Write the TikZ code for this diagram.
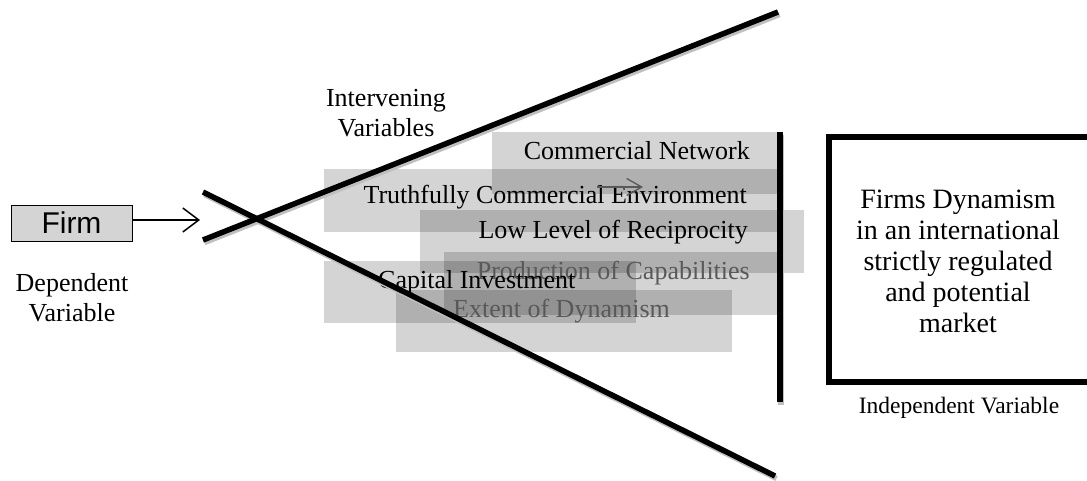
\documentclass[tikz,border=0pt]{standalone}
\usepackage{fontspec}
\setmainfont{Liberation Serif}
\newfontfamily\arialfont{Liberation Sans}
\usetikzlibrary{arrows.meta}
\begin{document}
\begin{tikzpicture}[x=1pt,y=-1pt,
  varbox/.style={fill=black, fill opacity=0.17, draw=none},
  vartext/.style={inner sep=0pt, font=\fontsize{26}{30}\selectfont, text height=18pt, text depth=5pt},
  heavy/.style={line width=5.5pt, line cap=butt, line join=miter},
  shade/.style={line width=5.5pt, draw=black!25},
  lbl/.style={align=center, inner sep=0pt, font=\fontsize{26}{30}\selectfont},
  barb/.style={line width=1.5pt, -{Straight Barb[length=16pt,width=24pt]}},
]
\useasboundingbox (0,0) rectangle (1087,481);

% translucent bands for the intervening variables
\path[varbox] (492,132) rectangle (777,194);
\path[varbox] (324,169) rectangle (777,232);
\path[varbox] (420,210) rectangle (804,273);
\path[varbox] (444,252) rectangle (777,315);
\path[varbox] (324,261) rectangle (636,323);
\path[varbox] (396,290) rectangle (732,352);

% labels of the bands
\node[vartext, anchor=east] (tcn) at (750,153) {Commercial Network};
\node[vartext, anchor=east] (tce) at (747,197) {Truthfully Commercial Environment};
\node[vartext, anchor=east] (tll) at (748,232) {Low Level of Reciprocity};
\node[vartext, anchor=east, text=black!65] (tpc) at (750,273) {Production of Capabilities};
\node[vartext, anchor=west] (tci) at (378,282) {Capital Investment};
\node[vartext, anchor=west, text=black!65] (ted) at (453,311) {Extent of Dynamism};

% small arrow lying under the top band
\coordinate (sa0) at (597,187);
\coordinate (sa1) at (643,187);
\draw[black!65, line width=1.3pt, -{Straight Barb[length=15pt,width=17pt]}] (sa0) -- (sa1);

% the firm and its arrow into the fan
\node[draw, fill=black!17, line width=0.8pt, minimum width=121pt, minimum height=36pt,
      inner sep=0pt, font=\arialfont\fontsize{30}{30}\selectfont] (firm) at (71.5,223) {Firm};
\coordinate (fan) at (200,220);
\draw[barb] (firm.east |- fan) -- (fan);

\node[lbl] (dv) at (72,298) {Dependent\\Variable};
\node[lbl] (iv) at (386,113) {Intervening\\Variables};

% the fan of two crossing lines and the closing bar
\coordinate (u0) at (203,240); \coordinate (u1) at (778,12);
\coordinate (l0) at (203,192); \coordinate (l1) at (775,476);
\coordinate (v0) at (780,132); \coordinate (v1) at (780,402);
\draw[shade] ([shift={(1.5,2.5)}]u0) -- ([shift={(1.5,2.5)}]u1);
\draw[shade] ([shift={(1.5,2.5)}]l0) -- ([shift={(1.5,2.5)}]l1);
\draw[shade] ([shift={(1,3)}]v0) -- ([shift={(1,3)}]v1);
\draw[heavy] (u0) -- (u1);
\draw[heavy] (l0) -- (l1);
\draw[heavy, line width=6pt] (v0) -- (v1);

% outcome box, running off the right edge
\draw[heavy] (1095,137) -| (829,382) -- (1095,382);
\node[align=center, inner sep=0pt, font=\fontsize{28}{31}\selectfont] (outcome) at (958,261)
  {Firms Dynamism\\in an international\\strictly regulated\\and potential\\market};
\node[inner sep=0pt, font=\fontsize{23.5}{28}\selectfont] (ivl) at (959,408) {Independent Variable};
\end{tikzpicture}
\end{document}
